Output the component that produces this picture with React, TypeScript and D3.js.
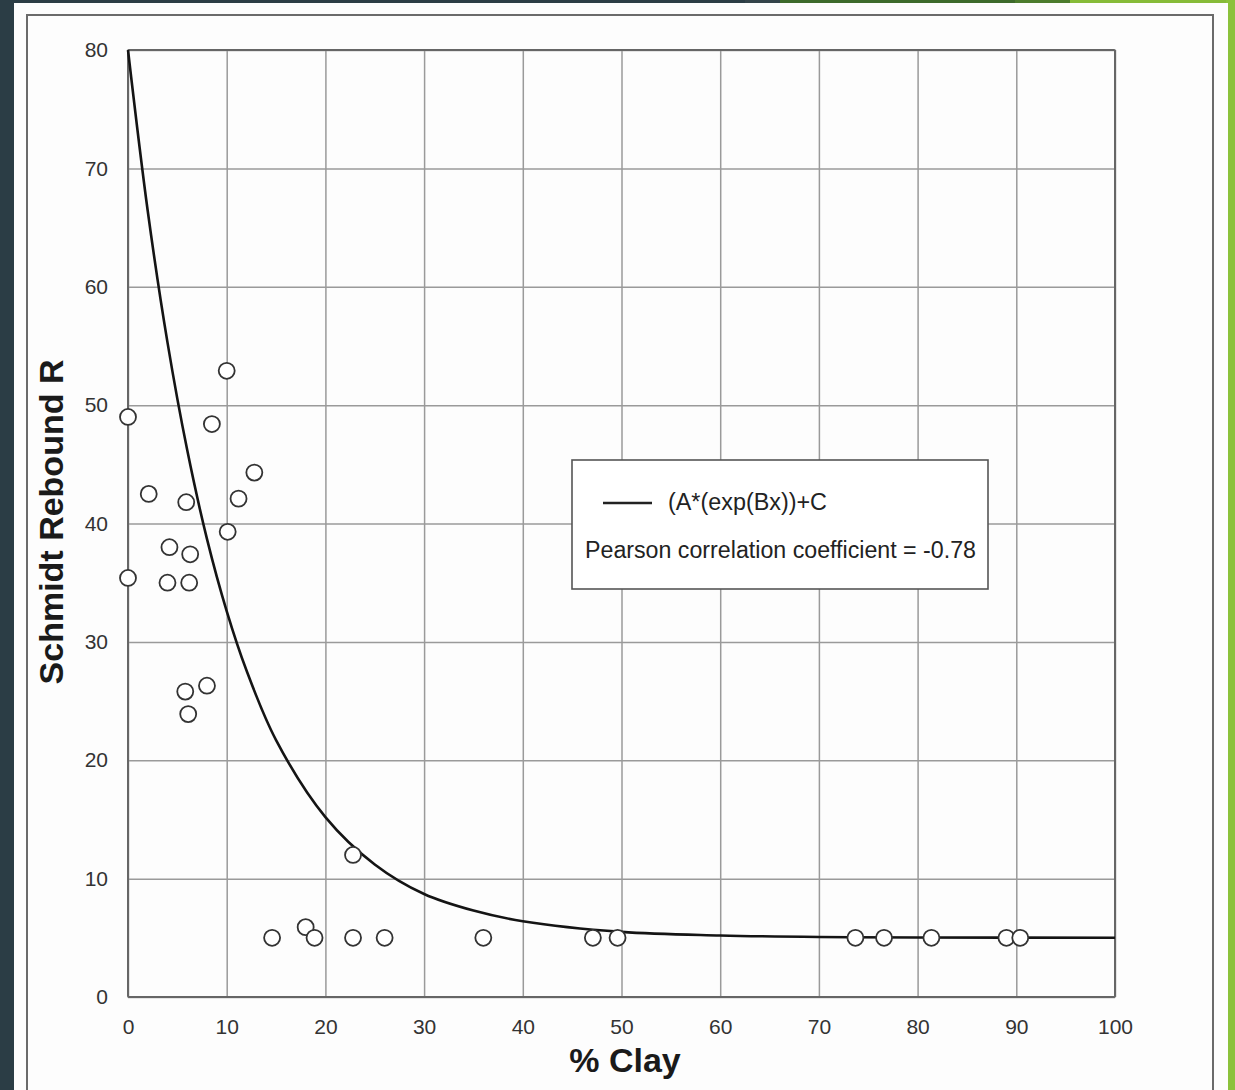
import React, { useEffect, useRef } from 'react';
import * as d3 from 'd3';

// measured samples (% clay vs rebound R)
const clayPct = [0, 0, 2.1, 4.2, 4.0, 5.9, 6.3, 6.2, 5.8, 6.1, 8.0, 8.5, 10.0, 10.1, 11.2, 12.8,
  14.6, 18.0, 18.9, 22.8, 22.8, 26.0, 36.0, 47.1, 49.6, 73.7, 76.6, 81.4, 89.0, 90.4];
const reboundR = [49.0, 35.4, 42.5, 38.0, 35.0, 41.8, 37.4, 35.0, 25.8, 23.9, 26.3, 48.4, 52.9, 39.3, 42.1, 44.3,
  5.0, 5.9, 5.0, 12.0, 5.0, 5.0, 5.0, 5.0, 5.0, 5.0, 5.0, 5.0, 5.0, 5.0];

// fitted curve
const fitX = [0, 2, 4, 6, 8, 10, 12, 15, 20, 25, 30, 35, 40, 50, 60, 70, 80, 100];
const fitY = [80, 66.4, 55.3, 46.2, 38.7, 32.6, 27.6, 21.7, 15.2, 11.2, 8.7, 7.3, 6.4, 5.5, 5.2, 5.07, 5.03, 5.0];

const xTicks = [0, 10, 20, 30, 40, 50, 60, 70, 80, 90, 100];
const yTicks = [0, 10, 20, 30, 40, 50, 60, 70, 80];

const legendFit = '(A*(exp(Bx))+C';
const legendPearson = 'Pearson correlation coefficient = -0.78';

const W = 1235;
const H = 1090;
const font = '"Liberation Sans", Arial, Helvetica, sans-serif';

export default function App() {
  const svgRef = useRef<SVGSVGElement>(null);

  useEffect(() => {
    const svg = d3.select(svgRef.current);
    svg.selectAll('*').remove();

    const left = 128, right = 1115, top = 50, bottom = 997;
    const x = d3.scaleLinear().domain([0, 100]).range([left, right]);
    const y = d3.scaleLinear().domain([0, 80]).range([bottom, top]);

    // page background + frame
    svg.append('rect').attr('width', W).attr('height', H).attr('fill', '#2b3d45');
    const bands = [
      { x0: 745, x1: 780, c: '#34444a' },
      { x0: 780, x1: 1015, c: '#3d6a2b' },
      { x0: 1015, x1: 1070, c: '#4c7c2d' },
      { x0: 1070, x1: 1235, c: '#86bb38' },
    ];
    bands.forEach((b) => {
      svg.append('rect').attr('x', b.x0).attr('y', 0).attr('width', b.x1 - b.x0).attr('height', 6).attr('fill', b.c);
    });
    svg.append('rect').attr('x', 1226).attr('y', 0).attr('width', 9).attr('height', H).attr('fill', '#8cc23c');
    svg.append('rect').attr('x', 14).attr('y', 3).attr('width', 1214).attr('height', H).attr('fill', '#fdfdfd');
    svg.append('rect')
      .attr('x', 27).attr('y', 15).attr('width', 1186).attr('height', H)
      .attr('fill', 'none').attr('stroke', '#6b6b6b').attr('stroke-width', 2);

    const g = svg.append('g');

    // grid
    g.append('g')
      .attr('transform', `translate(0,${bottom})`)
      .call(d3.axisBottom(x).tickValues(xTicks).tickSize(-(bottom - top)).tickFormat(() => ''))
      .call((s) => s.select('.domain').remove())
      .selectAll('line').attr('stroke', '#9a9a9a').attr('stroke-width', 1.5);
    g.append('g')
      .attr('transform', `translate(${left},0)`)
      .call(d3.axisLeft(y).tickValues(yTicks).tickSize(-(right - left)).tickFormat(() => ''))
      .call((s) => s.select('.domain').remove())
      .selectAll('line').attr('stroke', '#9a9a9a').attr('stroke-width', 1.5);

    // plot border
    g.append('rect')
      .attr('x', left).attr('y', top).attr('width', right - left).attr('height', bottom - top)
      .attr('fill', 'none').attr('stroke', '#666').attr('stroke-width', 2).attr('rx', 1);

    // tick labels
    const xa = g.append('g')
      .attr('transform', `translate(0,${bottom})`)
      .call(d3.axisBottom(x).tickValues(xTicks).tickSize(0).tickPadding(22));
    xa.select('.domain').remove();
    xa.selectAll('text')
      .attr('font-family', font).attr('font-size', 21).attr('fill', '#333');

    const ya = g.append('g')
      .attr('transform', `translate(${left},0)`)
      .call(d3.axisLeft(y).tickValues(yTicks).tickSize(0).tickPadding(20));
    ya.select('.domain').remove();
    ya.selectAll('text')
      .attr('font-family', font).attr('font-size', 21).attr('fill', '#333');

    // fitted curve
    const pts = fitX.map((v, i) => [v, fitY[i]] as [number, number]);
    const line = d3.line<[number, number]>()
      .x((d) => x(d[0]))
      .y((d) => y(d[1]))
      .curve(d3.curveCatmullRom.alpha(0.5));
    g.append('path')
      .attr('d', line(pts))
      .attr('fill', 'none').attr('stroke', '#141414').attr('stroke-width', 2.6);

    // samples
    g.selectAll('circle.pt')
      .data(clayPct.map((v, i) => ({ c: v, r: reboundR[i] })))
      .enter()
      .append('circle')
      .attr('class', 'pt')
      .attr('cx', (d) => x(d.c))
      .attr('cy', (d) => y(d.r))
      .attr('r', 8)
      .attr('fill', '#fff')
      .attr('stroke', '#333')
      .attr('stroke-width', 1.8);

    // legend
    const lg = g.append('g');
    lg.append('rect')
      .attr('x', 572).attr('y', 460).attr('width', 416).attr('height', 129)
      .attr('fill', '#fff').attr('stroke', '#555').attr('stroke-width', 1.6);
    lg.append('line')
      .attr('x1', 603).attr('x2', 652).attr('y1', 503).attr('y2', 503)
      .attr('stroke', '#222').attr('stroke-width', 2.6);
    lg.append('text')
      .attr('x', 668).attr('y', 510)
      .attr('font-family', font).attr('font-size', 23).attr('fill', '#222')
      .attr('textLength', 159).attr('lengthAdjust', 'spacingAndGlyphs')
      .text(legendFit);
    lg.append('text')
      .attr('x', 585).attr('y', 558)
      .attr('font-family', font).attr('font-size', 23).attr('fill', '#222')
      .attr('textLength', 391).attr('lengthAdjust', 'spacingAndGlyphs')
      .text(legendPearson);

    // axis titles
    g.append('text')
      .attr('x', 625).attr('y', 1072)
      .attr('text-anchor', 'middle')
      .attr('font-family', font).attr('font-size', 34).attr('font-weight', 'bold').attr('fill', '#1a1a1a')
      .text('% Clay');
    g.append('text')
      .attr('transform', 'translate(63,522) rotate(-90)')
      .attr('text-anchor', 'middle')
      .attr('font-family', font).attr('font-size', 34).attr('font-weight', 'bold').attr('fill', '#1a1a1a')
      .text('Schmidt Rebound R');
  }, []);

  return (
    <div style={{ position: 'absolute', left: 0, top: 0 }}>
      <svg ref={svgRef} width={W} height={H} style={{ display: 'block' }} />
    </div>
  );
}
